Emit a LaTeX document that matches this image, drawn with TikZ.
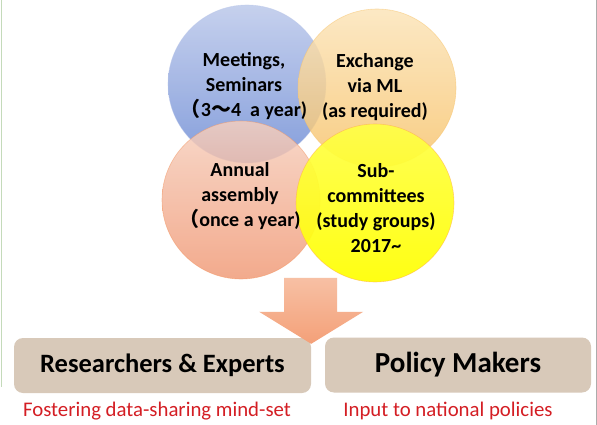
\documentclass[tikz,border=0pt]{standalone}
\usepackage{fontspec}
\setmainfont{Carlito}
\newfontfamily\cjk{Noto Sans CJK JP}
\usetikzlibrary{positioning}

\definecolor{blueTop}{RGB}{186,199,234}
\definecolor{blueBot}{RGB}{106,137,212}
\definecolor{orgTop}{RGB}{252,228,184}
\definecolor{orgBot}{RGB}{247,194,104}
\definecolor{salTop}{RGB}{247,208,190}
\definecolor{salBot}{RGB}{240,152,116}
\definecolor{yelTop}{RGB}{255,255,70}
\definecolor{yelBot}{RGB}{255,255,0}
\definecolor{boxfill}{RGB}{216,201,185}
\definecolor{notered}{RGB}{212,30,36}
\definecolor{arrowTop}{RGB}{247,192,164}
\definecolor{arrowBot}{RGB}{244,160,120}

\begin{document}
\begin{tikzpicture}[x=1pt,y=-1pt,
    bubble/.style={circle,minimum size=158pt,inner sep=0pt,fill opacity=0.82,draw opacity=0.5,line width=0.6pt},
    bubbletext/.style={align=center,font=\fontsize{20}{25}\selectfont\bfseries},
    group/.style={rounded corners=9pt,fill=boxfill,minimum height=55pt,inner sep=0pt},
    note/.style={text=notered,font=\fontsize{20.8}{24}\selectfont}]
    \useasboundingbox[fill=white] (0,0) rectangle (597,425);
    \draw[color={rgb,255:red,196;green,218;blue,186},line width=1pt] (1,0) -- (1,387);
    \draw[color={rgb,255:red,172;green,172;blue,172},line width=1pt] (596,0) -- (596,425);

    % groups
    \node[group,minimum width=297pt] (res) at (162.5,365.5) {\fontsize{26.5}{31}\selectfont\bfseries Researchers \& Experts};
    \node[group,minimum width=266pt] (pol) at (458,365) {\fontsize{29}{34}\selectfont\bfseries Policy Makers};
    \node[note] (resnote) at (157,411) {Fostering data-sharing mind-set};
    \node[note] (polnote) at (448,411) {Input to national policies};

    % block arrow down to the researchers
    \coordinate (tip) at ([xshift=0pt,yshift=-6pt]res.north east);
    \shade[top color=arrowTop,bottom color=arrowBot]
        (tip) -- ++(-52,-32) -- ++(25,0) -- ++(0,-34) -- ++(53,0) -- ++(0,34) -- ++(26,0) -- cycle;

    % activities
    \node[bubble,shade,top color=blueTop,bottom color=blueBot,draw=blueTop] (meet) at (247,84) {};
    \node[bubble,shade,top color=orgTop,bottom color=orgBot,draw=orgBot] (mail) at (377,88) {};
    \node[bubble,shade,top color=salTop,bottom color=salBot,draw=salBot!80!orange] (assem) at (241,200) {};
    \node[bubble,shade,top color=yelTop,bottom color=yelBot,draw=orange!70,fill opacity=0.92] (subc) at (375,203) {};

    \node[bubbletext] (meettxt) at (244,86) {Meetings,\\Seminars\\{\cjk （}3{\cjk ～}4\ \ a year)};
    \node[bubbletext] (mailtxt) at (375,87) {Exchange\\via ML\\(as required)};
    \node[bubbletext] (assemtxt) at (240,196) {Annual\\assembly\\{\cjk （}once a year)};
    \node[bubbletext] (subctxt) at (376,208) {Sub-\\committees\\(study groups)\\2017\textasciitilde};
\end{tikzpicture}
\end{document}
